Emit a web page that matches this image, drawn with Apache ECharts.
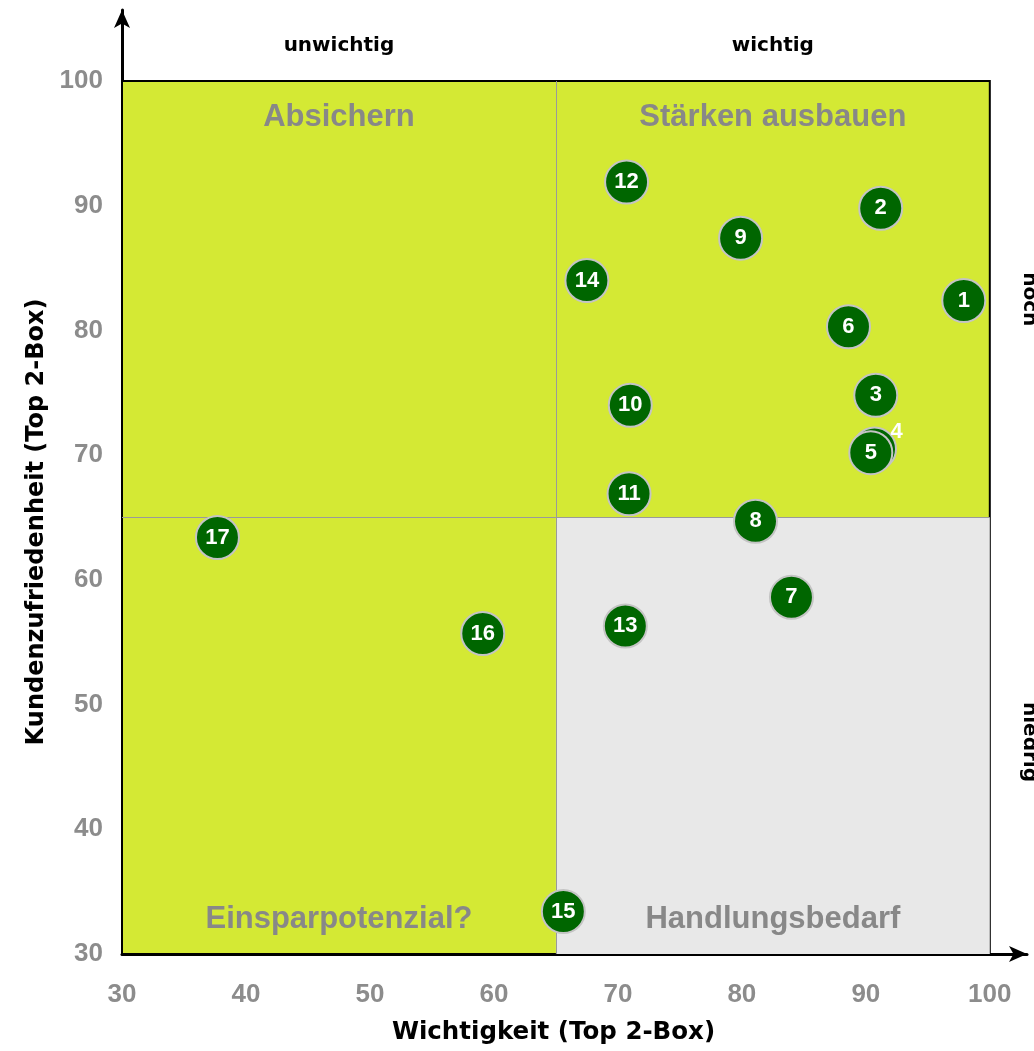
<!DOCTYPE html>
<html>
<head>
<meta charset="utf-8">
<script src="https://cdn.jsdelivr.net/npm/echarts@6/dist/echarts.min.js"></script>
<style>
  html, body { margin: 0; padding: 0; background: #fff; }
  #chart { width: 1034px; height: 1051px; }
</style>
</head>
<body>
<div id="chart"></div>
<script>
// Portfolio: importance vs. customer satisfaction (Top 2-Box, in %)
const pointIds      = ['1', '2', '3', '4', '5', '6', '7', '8', '9', '10', '11', '12', '13', '14', '15', '16', '17'];
const importance    = [97.9, 91.2, 90.8, 90.7, 90.4, 88.6, 84.0, 81.1, 79.9, 71.0, 70.9, 70.7, 70.6, 67.5, 65.6, 59.1, 37.7];
const satisfaction  = [82.4, 89.8, 74.8, 70.5, 70.2, 80.3, 58.6, 64.7, 87.4, 74.0, 66.9, 91.9, 56.3, 84.0, 33.4, 55.7, 63.4];

const xTicks = [30, 40, 50, 60, 70, 80, 90, 100];
const yTicks = [30, 40, 50, 60, 70, 80, 90, 100];

const quadrantNames = ['Absichern', 'Stärken ausbauen', 'Einsparpotenzial?', 'Handlungsbedarf'];
const columnNames   = ['unwichtig', 'wichtig'];
const rowNames      = ['hoch', 'niedrig'];

const axisMin = 30, axisMax = 100, split = 65;

const points = pointIds.map((id, i) => ({
  name: id,
  value: [importance[i], satisfaction[i]],
  label: id === '4' ? { position: 'inside', offset: [22, -17] } : undefined
}));

// label-only scatter used for the annotation texts
const textSeries = (data, style) => ({
  type: 'scatter',
  symbol: 'circle',
  symbolSize: 1,
  itemStyle: { color: 'rgba(0,0,0,0)' },
  silent: true,
  clip: false,
  z: 5,
  data: data,
  label: Object.assign({
    show: true, position: 'inside', formatter: p => p.name,
    opacity: 1, textBorderWidth: 0, textShadowBlur: 0
  }, style)
});

const labelFont = "'Liberation Sans', Arial, sans-serif";
const nameFont = "'DejaVu Sans', Verdana, sans-serif";

const chart = echarts.init(document.getElementById('chart'), null, { renderer: 'canvas' });

chart.setOption({
  animation: false,
  backgroundColor: '#ffffff',
  grid: { left: 122, right: 7, top: 10, bottom: 97 },
  xAxis: {
    type: 'value',
    min: 30, max: 103, interval: 10,
    name: 'Wichtigkeit (Top 2-Box)',
    nameLocation: 'middle',
    nameGap: 66,
    nameTextStyle: { fontFamily: nameFont, fontWeight: 'bold', fontSize: 24.5, color: '#000', padding: [0, 42, 0, 0] },
    axisLine: { show: true, lineStyle: { color: '#000', width: 3 }, symbol: ['none', 'arrow'], symbolSize: [12, 18] },
    axisTick: { show: false },
    splitLine: { show: false },
    axisLabel: {
      showMaxLabel: false,
      margin: 28,
      fontFamily: labelFont, fontWeight: 'bold', fontSize: 26, color: '#8c8c8c',
      formatter: v => xTicks.includes(v) ? String(v) : ''
    }
  },
  yAxis: {
    type: 'value',
    min: 30, max: 105.7, interval: 10,
    name: 'Kundenzufriedenheit (Top 2-Box)',
    nameLocation: 'middle',
    nameGap: 73,
    nameTextStyle: { fontFamily: nameFont, fontWeight: 'bold', fontSize: 24, color: '#000', padding: [0, 80, 0, 0] },
    axisLine: { show: true, lineStyle: { color: '#000', width: 3 }, symbol: ['none', 'arrow'], symbolSize: [12, 18] },
    axisTick: { show: false },
    splitLine: { show: false },
    axisLabel: {
      showMaxLabel: false,
      margin: 19,
      fontFamily: labelFont, fontWeight: 'bold', fontSize: 26, color: '#8c8c8c',
      formatter: v => yTicks.includes(v) ? String(v) : ''
    }
  },
  series: [
    {
      // quadrant backgrounds and dividers
      type: 'scatter',
      data: [],
      silent: true,
      z: 1,
      markArea: {
        silent: true,
        data: [
          [{ coord: [axisMin, axisMin], itemStyle: { color: '#d4e934', borderColor: '#000', borderWidth: 2 } },
           { coord: [axisMax, axisMax] }],
          [{ coord: [split, axisMin], itemStyle: { color: '#e8e8e8', borderWidth: 0 } },
           { coord: [axisMax, split] }]
        ]
      },
      markLine: {
        silent: true,
        symbol: 'none',
        label: { show: false },
        lineStyle: { color: '#9a9a9a', width: 1, type: 'solid' },
        data: [
          [{ coord: [split, axisMin] }, { coord: [split, axisMax] }],
          [{ coord: [axisMin, split] }, { coord: [axisMax, split] }]
        ]
      }
    },
    {
      type: 'scatter',
      name: 'Merkmale',
      z: 10,
      symbol: 'circle',
      symbolSize: 43,
      itemStyle: { color: '#006600', borderColor: '#c4c4c4', borderWidth: 2, opacity: 1 },
      label: {
        show: true,
        position: 'inside',
        formatter: p => p.name,
        fontFamily: labelFont, fontWeight: 'bold', fontSize: 22, color: '#ffffff'
      },
      data: points
    },
    textSeries([
      { name: quadrantNames[0], value: [47.5, 97.1] },
      { name: quadrantNames[1], value: [82.5, 97.1] },
      { name: quadrantNames[2], value: [47.5, 32.8] },
      { name: quadrantNames[3], value: [82.5, 32.8] }
    ], { fontFamily: labelFont, fontWeight: 'bold', fontSize: 31, color: '#888888' }),
    textSeries([
      { name: columnNames[0], value: [47.5, 102.8] },
      { name: columnNames[1], value: [82.5, 102.8] }
    ], { fontFamily: nameFont, fontWeight: 'bold', fontSize: 20, color: '#000' }),
    textSeries([
      { name: rowNames[0], value: [103.2, 82.5] },
      { name: rowNames[1], value: [103.2, 47.0] }
    ], { fontFamily: nameFont, fontWeight: 'bold', fontSize: 20, color: '#000', rotate: -90 })
  ]
});
</script>
</body>
</html>
